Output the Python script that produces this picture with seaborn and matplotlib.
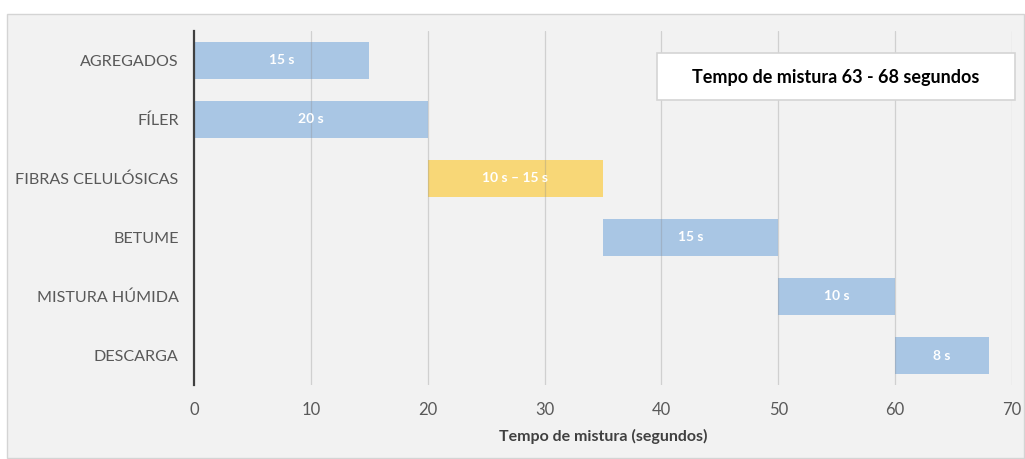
import matplotlib
matplotlib.use("Agg")
import matplotlib.pyplot as plt
from matplotlib.patches import Rectangle
import seaborn as sns
import pandas as pd

# Mixing stages (top to bottom), start time and duration in seconds
tasks = ["AGREGADOS", "FÍLER", "FIBRAS CELULÓSICAS", "BETUME", "MISTURA HÚMIDA", "DESCARGA"]
starts = [0, 0, 20, 35, 50, 60]
durations = [15, 20, 15, 15, 10, 8]
bar_labels = ["15 s", "20 s", "10 s – 15 s", "15 s", "10 s", "8 s"]
bar_colors = ["#a9c6e4", "#a9c6e4", "#f8d777", "#a9c6e4", "#a9c6e4", "#a9c6e4"]
x_ticks = [0, 10, 20, 30, 40, 50, 60, 70]
x_label = "Tempo de mistura (segundos)"
note = "Tempo de mistura 63 - 68 segundos"

df = pd.DataFrame({"etapa": tasks, "inicio": starts, "duracao": durations})

sns.set_theme(style="white")
plt.rcParams["font.family"] = ["Lato", "DejaVu Sans"]

W, H = 1025, 459
fig = plt.figure(figsize=(W / 100, H / 100), dpi=100, facecolor="white")

# light grey chart area with thin border
fig.patches.append(Rectangle((7 / W, 1 / H), 1017 / W, 444 / H, transform=fig.transFigure,
                             facecolor="#f2f2f2", edgecolor="#d4d4d4", linewidth=1.0, zorder=-5))

ax = fig.add_axes([194 / W, 74 / H, 818 / W, 354 / H])
ax.set_facecolor("#f2f2f2")
ax.set_zorder(1)

sns.barplot(data=df, x="duracao", y="etapa", hue="etapa", palette=bar_colors,
            order=tasks, hue_order=tasks, legend=False, width=0.63,
            saturation=1, linewidth=0, ax=ax)

# shift each bar to start at its stage's start time and label it
for container, start, label in zip(ax.containers, starts, bar_labels):
    for patch in container:
        patch.set_x(start)
        cx = patch.get_x() + patch.get_width() / 2
        cy = patch.get_y() + patch.get_height() / 2
        ax.text(cx, cy, label, ha="center", va="center", color="white",
                fontsize=10, fontweight="bold", zorder=5)

ax.set_xlim(0, 70)
ax.set_xticks(x_ticks)
ax.set_xticklabels([str(t) for t in x_ticks])
ax.set_xlabel(x_label, fontsize=11.5, fontweight="bold", color="#404040", labelpad=8)
ax.set_ylabel("")

# vertical gridlines drawn over the bars so they show through
for t in x_ticks[1:]:
    ax.axvline(t, color="#8a8a8a", alpha=0.32, linewidth=0.9, zorder=4)

for side in ["top", "right", "bottom"]:
    ax.spines[side].set_visible(False)
ax.spines["left"].set_color("#404040")
ax.spines["left"].set_linewidth(1.6)
ax.spines["left"].set_zorder(6)

ax.tick_params(axis="both", length=0, labelcolor="#595959")
ax.tick_params(axis="y", pad=11, labelsize=11.6)
ax.tick_params(axis="x", pad=12, labelsize=12)

# summary box in the upper right
box = Rectangle((657 / W, 359 / H), 358 / W, 47 / H, transform=fig.transFigure,
                facecolor="white", edgecolor="#d4d4d4", linewidth=1.2, zorder=10)
fig.patches.append(box)
fig.text(836 / W, 382 / H, note, ha="center", va="center", fontsize=13,
         fontweight="bold", color="black", zorder=11)

fig.savefig("out.png", dpi=100, facecolor="white")
